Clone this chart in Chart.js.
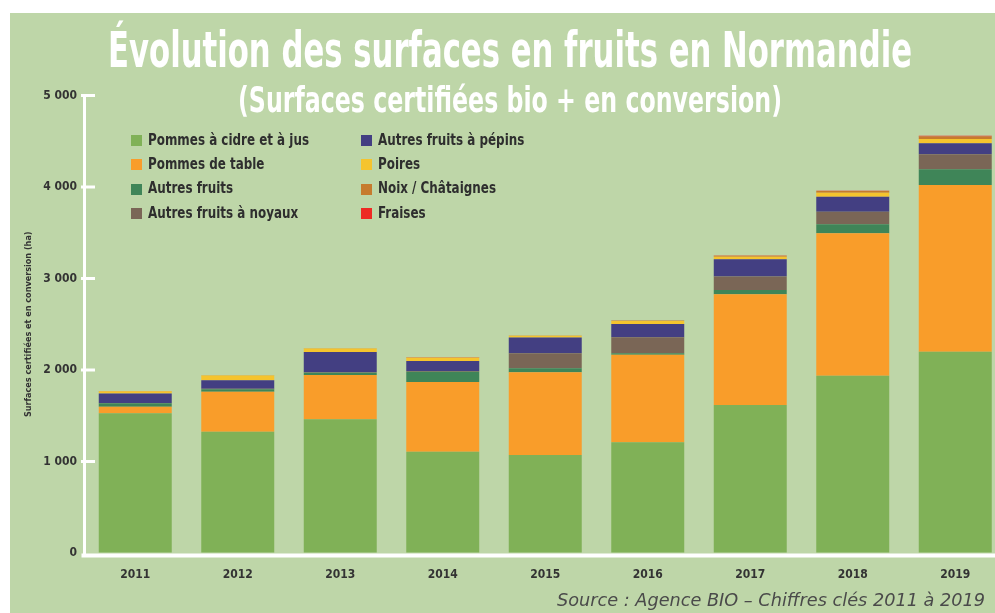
<!DOCTYPE html>
<html lang="fr">
<head>
<meta charset="utf-8">
<title>Évolution des surfaces en fruits en Normandie</title>
<script src="https://cdn.jsdelivr.net/npm/chart.js@4.4.1/dist/chart.umd.min.js"></script>
<style>
  html, body { margin: 0; padding: 0; width: 995px; height: 613px; overflow: hidden; background: #fff; }
  body { position: relative; font-family: 'Liberation Sans Narrow', 'DejaVu Sans Condensed', 'Roboto Condensed', sans-serif; }
  #panel { position: absolute; left: 10px; top: 13px; width: 985px; height: 600px; background: #bed6a8; }
  #wrap { position: absolute; left: 0; top: 0; width: 1010px; height: 613px; }
  .fit { position: absolute; white-space: nowrap; transform-origin: 0 0; line-height: 1; }
  #title { top: 25px; font-size: 50px; font-weight: bold; color: #fff; }
  #subtitle { top: 82px; font-size: 36px; font-weight: bold; color: #fff; }
  #source { top: 591px; font-size: 18px; font-style: italic; color: #4a4a4a; }
  .lg-box { position: absolute; width: 11px; height: 11px; }
  .lg-txt { position: absolute; white-space: nowrap; font-size: 15px; font-weight: bold; color: #2e2e2e; line-height: 1; transform-origin: 0 50%; }
</style>
</head>
<body>
<div id="panel"></div>
<div id="wrap"><canvas id="chart"></canvas></div>
<div id="title" class="fit">Évolution des surfaces en fruits en Normandie</div>
<div id="subtitle" class="fit">(Surfaces certifiées bio + en conversion)</div>
<div id="legend"></div>
<div id="source" class="fit">Source : Agence BIO – Chiffres clés 2011 à 2019</div>
<script>
// Surfaces bio + conversion (ha)
const YEARS = ['2011', '2012', '2013', '2014', '2015', '2016', '2017', '2018', '2019'];

const CIDRE   = [1527, 1326, 1461, 1107, 1071, 1210, 1618, 1938, 2200];
const TABLE   = [  72,  437,  484,  762,  905,  957, 1210, 1556, 1822];
const AUTRES  = [  37,   26,   25,  113,   43,   15,   47,   98,  172];
const NOYAUX  = [   4,    5,    5,    6,  164,  175,  146,  138,  164];
const PEPINS  = [ 102,   94,  223,  109,  171,  146,  190,  164,  120];
const POIRES  = [  25,   51,   36,   37,   19,   33,   28,   44,   47];
const NOIX    = [   2,    3,    3,    3,    3,    4,   10,   18,   28];
const FRAISES = [   1,    1,    1,    1,    2,    2,    3,    4,    6];

const SERIES_LABELS = ['Pommes à cidre et à jus', 'Pommes de table', 'Autres fruits', 'Autres fruits à noyaux',
                       'Autres fruits à pépins', 'Poires', 'Noix / Châtaignes', 'Fraises'];
const SERIES_COLORS = ['#80b157', '#f99d2a', '#3f8558', '#7a6656', '#433f82', '#f5c42e', '#c67b2e', '#ee2a24'];
const SERIES_DATA = [CIDRE, TABLE, AUTRES, NOYAUX, PEPINS, POIRES, NOIX, FRAISES];

const Y_TICKS = ['0', '1 000', '2 000', '3 000', '4 000', '5 000'];

const FONT = "'Liberation Sans Narrow', 'DejaVu Sans Condensed', 'Roboto Condensed', sans-serif";
const INK = '#333';

function el(id) { return document.getElementById(id); }

// squeeze a text block to a target width (the original uses a very condensed face)
function fit(node, left, width) {
  const w = node.getBoundingClientRect().width;
  node.style.left = left + 'px';
  node.style.transform = `scaleX(${width / w})`;
}

// white tick marks pointing into the plot, plus the base line under the bars
const axisMarks = {
  id: 'axisMarks',
  afterDatasetsDraw(chart) {
    const { ctx, chartArea, scales: { y } } = chart;
    ctx.save();
    ctx.strokeStyle = '#fff';
    ctx.lineWidth = 3;
    y.ticks.forEach(t => {
      if (t.value === 0) return;
      const py = y.getPixelForValue(t.value);
      ctx.beginPath();
      ctx.moveTo(chartArea.left - 3, py);
      ctx.lineTo(chartArea.left + 11, py);
      ctx.stroke();
    });
    ctx.lineWidth = 4;
    ctx.beginPath();
    ctx.moveTo(chartArea.left - 2.5, chartArea.bottom + 2.5);
    ctx.lineTo(chartArea.right, chartArea.bottom + 2.5);
    ctx.stroke();
    ctx.restore();
  }
};

function renderChart() {
  const datasets = SERIES_DATA.map((data, i) => ({
    label: SERIES_LABELS[i], data, backgroundColor: SERIES_COLORS[i], borderWidth: 0,
    barPercentage: 0.712, categoryPercentage: 1,
  }));

  new Chart(el('chart').getContext('2d'), {
    type: 'bar',
    data: { labels: YEARS, datasets },
    plugins: [axisMarks],
    options: {
      responsive: true, maintainAspectRatio: false, animation: false,
      layout: { padding: { left: 15, top: 95.5, right: 3.5, bottom: 0 } },
      plugins: { legend: { display: false }, tooltip: { enabled: false } },
      scales: {
        x: {
          stacked: true,
          afterFit: s => { s.height = 60; },
          grid: { display: true, drawOnChartArea: false, drawTicks: false, color: 'rgba(0,0,0,0)' },
          border: { display: false },
          ticks: { color: INK, padding: 15, font: { family: FONT, size: 12, weight: 'bold' } },
        },
        y: {
          stacked: true, min: 0, max: 5000,
          afterFit: s => { s.width = 69; },
          grid: { display: true, drawOnChartArea: false, drawTicks: false, color: 'rgba(0,0,0,0)' },
          border: { display: true, color: '#fff', width: 3 },
          ticks: { stepSize: 1000, color: INK, padding: 7, font: { family: FONT, size: 12, weight: 'bold' },
                   callback: (v, i) => Y_TICKS[i] },
          title: { display: true, text: 'Surfaces certifiées et en conversion (ha)', color: INK,
                   padding: { top: 8, bottom: 0 }, font: { family: FONT, size: 9, weight: 'bold' } },
        },
      },
    },
  });
}

function renderLegend() {
  const box = el('legend');
  const colLeft = [131, 361];
  SERIES_LABELS.forEach((name, i) => {
    const col = Math.floor(i / 4), row = i % 4;
    const cy = 140.5 + row * 24.4;
    const sq = document.createElement('div');
    sq.className = 'lg-box';
    sq.style.left = colLeft[col] + 'px';
    sq.style.top = (cy - 5.5) + 'px';
    sq.style.background = SERIES_COLORS[i];
    box.appendChild(sq);
    const tx = document.createElement('div');
    tx.className = 'lg-txt';
    tx.textContent = name;
    tx.style.left = (colLeft[col] + 17) + 'px';
    tx.style.top = (cy - 8) + 'px';
    box.appendChild(tx);
  });
  const txts = box.querySelectorAll('.lg-txt');
  const k = 161 / txts[0].getBoundingClientRect().width;
  txts.forEach(t => { t.style.transform = `scaleX(${k})`; });
}

renderChart();
renderLegend();
fit(el('title'), 108, 804);
fit(el('subtitle'), 238, 544);
fit(el('source'), 557, 428);
</script>
</body>
</html>
